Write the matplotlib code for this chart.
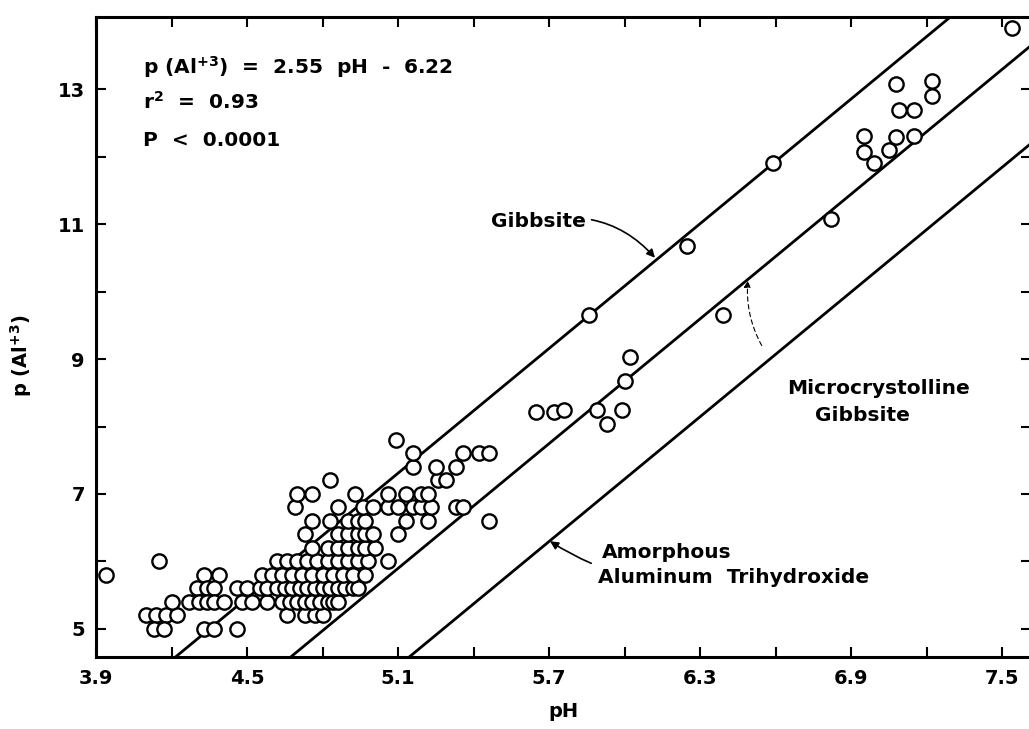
import numpy as np
import matplotlib
matplotlib.use('Agg')
import matplotlib.pyplot as plt

plt.rcParams['font.family'] = ['DejaVu Sans']
plt.rcParams['font.weight'] = 'bold'
plt.rcParams['axes.labelweight'] = 'bold'
plt.rcParams['mathtext.fontset'] = 'dejavusans'

# solubility lines: p(Al+3) = slope * pH + intercept
line_names = ['Gibbsite', 'Microcrystalline Gibbsite', 'Amorphous Aluminum Trihydroxide']
line_slope = [3.08, 3.08, 3.08]
line_icpt = [-8.40, -9.81, -11.26]

ph_obs = [
    3.94, 4.15,
    4.10, 4.14, 4.18, 4.22, 4.13, 4.17, 4.20,
    4.33, 4.39,
    4.30, 4.34, 4.37,
    4.27, 4.31, 4.34, 4.37, 4.41,
    4.33, 4.37, 4.46,
    4.66, 4.73, 4.77, 4.80,
    4.48, 4.52, 4.58, 4.64, 4.67, 4.70, 4.73, 4.76, 4.79, 4.82, 4.84, 4.86,
    4.46, 4.50, 4.55, 4.58, 4.62, 4.65, 4.68, 4.71, 4.74, 4.77, 4.80, 4.83, 4.86, 4.89, 4.92, 4.94,
    4.56, 4.60, 4.64, 4.68, 4.72, 4.76, 4.80, 4.84, 4.88, 4.92, 4.97,
    4.62, 4.66, 4.70, 4.74, 4.78, 4.82, 4.86, 4.90, 4.94, 4.98, 5.06,
    4.76, 4.82, 4.86, 4.90, 4.94, 4.97, 5.01,
    4.73, 4.86, 4.90, 4.94, 4.97, 5.00, 5.10,
    4.76, 4.83, 4.90, 4.94, 4.97, 5.13, 5.22, 5.46,
    4.69, 4.86, 4.96, 5.00, 5.06, 5.10, 5.16, 5.19, 5.23, 5.33, 5.36,
    4.70, 4.76, 4.93, 5.06, 5.13, 5.19, 5.22,
    4.83, 5.26, 5.29,
    5.16, 5.25, 5.33,
    5.16, 5.36, 5.42, 5.46,
    5.09,
    5.93, 5.65, 5.72, 5.76, 5.89, 5.99, 6.00, 6.02, 5.86, 6.39, 6.25, 6.82,
    6.59, 6.99, 6.95, 7.05, 6.95, 7.08, 7.15, 7.09, 7.15, 7.22, 7.08, 7.22, 7.54,
]
pal_obs = [
    5.8, 6.0,
    5.2, 5.2, 5.2, 5.2, 5.0, 5.0, 5.4,
    5.8, 5.8,
    5.6, 5.6, 5.6,
    5.4, 5.4, 5.4, 5.4, 5.4,
    5.0, 5.0, 5.0,
    5.2, 5.2, 5.2, 5.2,
    5.4, 5.4, 5.4, 5.4, 5.4, 5.4, 5.4, 5.4, 5.4, 5.4, 5.4, 5.4,
    5.6, 5.6, 5.6, 5.6, 5.6, 5.6, 5.6, 5.6, 5.6, 5.6, 5.6, 5.6, 5.6, 5.6, 5.6, 5.6,
    5.8, 5.8, 5.8, 5.8, 5.8, 5.8, 5.8, 5.8, 5.8, 5.8, 5.8,
    6.0, 6.0, 6.0, 6.0, 6.0, 6.0, 6.0, 6.0, 6.0, 6.0, 6.0,
    6.2, 6.2, 6.2, 6.2, 6.2, 6.2, 6.2,
    6.4, 6.4, 6.4, 6.4, 6.4, 6.4, 6.4,
    6.6, 6.6, 6.6, 6.6, 6.6, 6.6, 6.6, 6.6,
    6.8, 6.8, 6.8, 6.8, 6.8, 6.8, 6.8, 6.8, 6.8, 6.8, 6.8,
    7.0, 7.0, 7.0, 7.0, 7.0, 7.0, 7.0,
    7.2, 7.2, 7.2,
    7.4, 7.4, 7.4,
    7.6, 7.6, 7.6, 7.6,
    7.8,
    8.04, 8.22, 8.22, 8.24, 8.25, 8.24, 8.68, 9.03, 9.65, 9.65, 10.67, 11.08,
    11.90, 11.90, 12.07, 12.09, 12.30, 12.29, 12.30, 12.69, 12.69, 12.90, 13.08, 13.12, 13.90,
]

x_major = [3.9, 4.5, 5.1, 5.7, 6.3, 6.9, 7.5]
x_minor = [4.2, 4.8, 5.4, 6.0, 6.6, 7.2]
y_major = [5, 7, 9, 11, 13]
y_minor = [6, 8, 10, 12]

fig = plt.figure(figsize=(10.29, 7.29), dpi=100)
ax = fig.add_axes([96 / 1029, 1 - 657 / 729, (1031 - 96) / 1029, (657 - 17) / 729])
ax.set_xlim(3.9, 7.615)
ax.set_ylim(4.585, 14.067)

xx = np.array([3.9, 7.7])
for s, b in zip(line_slope, line_icpt):
    ax.plot(xx, s * xx + b, color='black', lw=2.0, zorder=2)

ax.plot(ph_obs, pal_obs, 'o', ms=10.3, mfc='white', mec='black', mew=1.7,
        linestyle='none', zorder=3)

fs = 14.5
# regression text
ax.text(4.087, 13.33, r'p (Al$^{\mathbf{+3}}$)  =  2.55  pH  -  6.22', fontsize=fs,
        ha='left', va='center')
ax.text(4.087, 12.81, r'r$^{\mathbf{2}}$  =  0.93', fontsize=fs, ha='left', va='center')
ax.text(4.087, 12.23, 'P  <  0.0001', fontsize=fs, ha='left', va='center')

# labels for the lines
ax.annotate('Gibbsite', xy=(6.121, 10.50), xytext=(5.470, 11.03),
            fontsize=fs, ha='left', va='center',
            arrowprops=dict(arrowstyle='-|>', color='black', lw=1.2,
                            shrinkA=2, shrinkB=0, mutation_scale=12,
                            connectionstyle='arc3,rad=-0.3'))
ax.text(6.645, 8.57, 'Microcrystolline', fontsize=fs, ha='left', va='center')
ax.text(6.757, 8.17, 'Gibbsite', fontsize=fs, ha='left', va='center')
ax.annotate('', xy=(6.490, 10.16), xytext=(6.545, 9.20),
            arrowprops=dict(arrowstyle='-|>', color='black', lw=0.8, ls=(0, (4, 3)),
                            shrinkA=0, shrinkB=0, mutation_scale=10,
                            connectionstyle='arc3,rad=-0.15'))
ax.text(5.910, 6.13, 'Amorphous', fontsize=fs, ha='left', va='center')
ax.annotate('Aluminum  Trihydroxide', xy=(5.704, 6.30), xytext=(5.894, 5.76),
            fontsize=fs, ha='left', va='center',
            arrowprops=dict(arrowstyle='-|>', color='black', lw=1.2,
                            shrinkA=4, shrinkB=0, mutation_scale=12,
                            connectionstyle='arc3,rad=-0.2'))

ax.set_xticks(x_major)
ax.set_xticks(x_minor, minor=True)
ax.set_yticks(y_major)
ax.set_yticks(y_minor, minor=True)
ax.set_xticklabels([str(v) for v in x_major])
ax.set_yticklabels([str(v) for v in y_major])
ax.tick_params(which='both', direction='in', top=True, right=True,
               length=7, width=1.5, labelsize=14, pad=9)
ax.tick_params(axis='y', pad=8)
for sp in ax.spines.values():
    sp.set_linewidth(2.2)

ax.set_xlabel('pH', fontsize=14, labelpad=10)
ax.set_ylabel(r'p (Al$^{\mathbf{+3}}$)', fontsize=14)
ax.yaxis.set_label_coords(-0.066, 0.47)

fig.savefig('out.png', dpi=100)
